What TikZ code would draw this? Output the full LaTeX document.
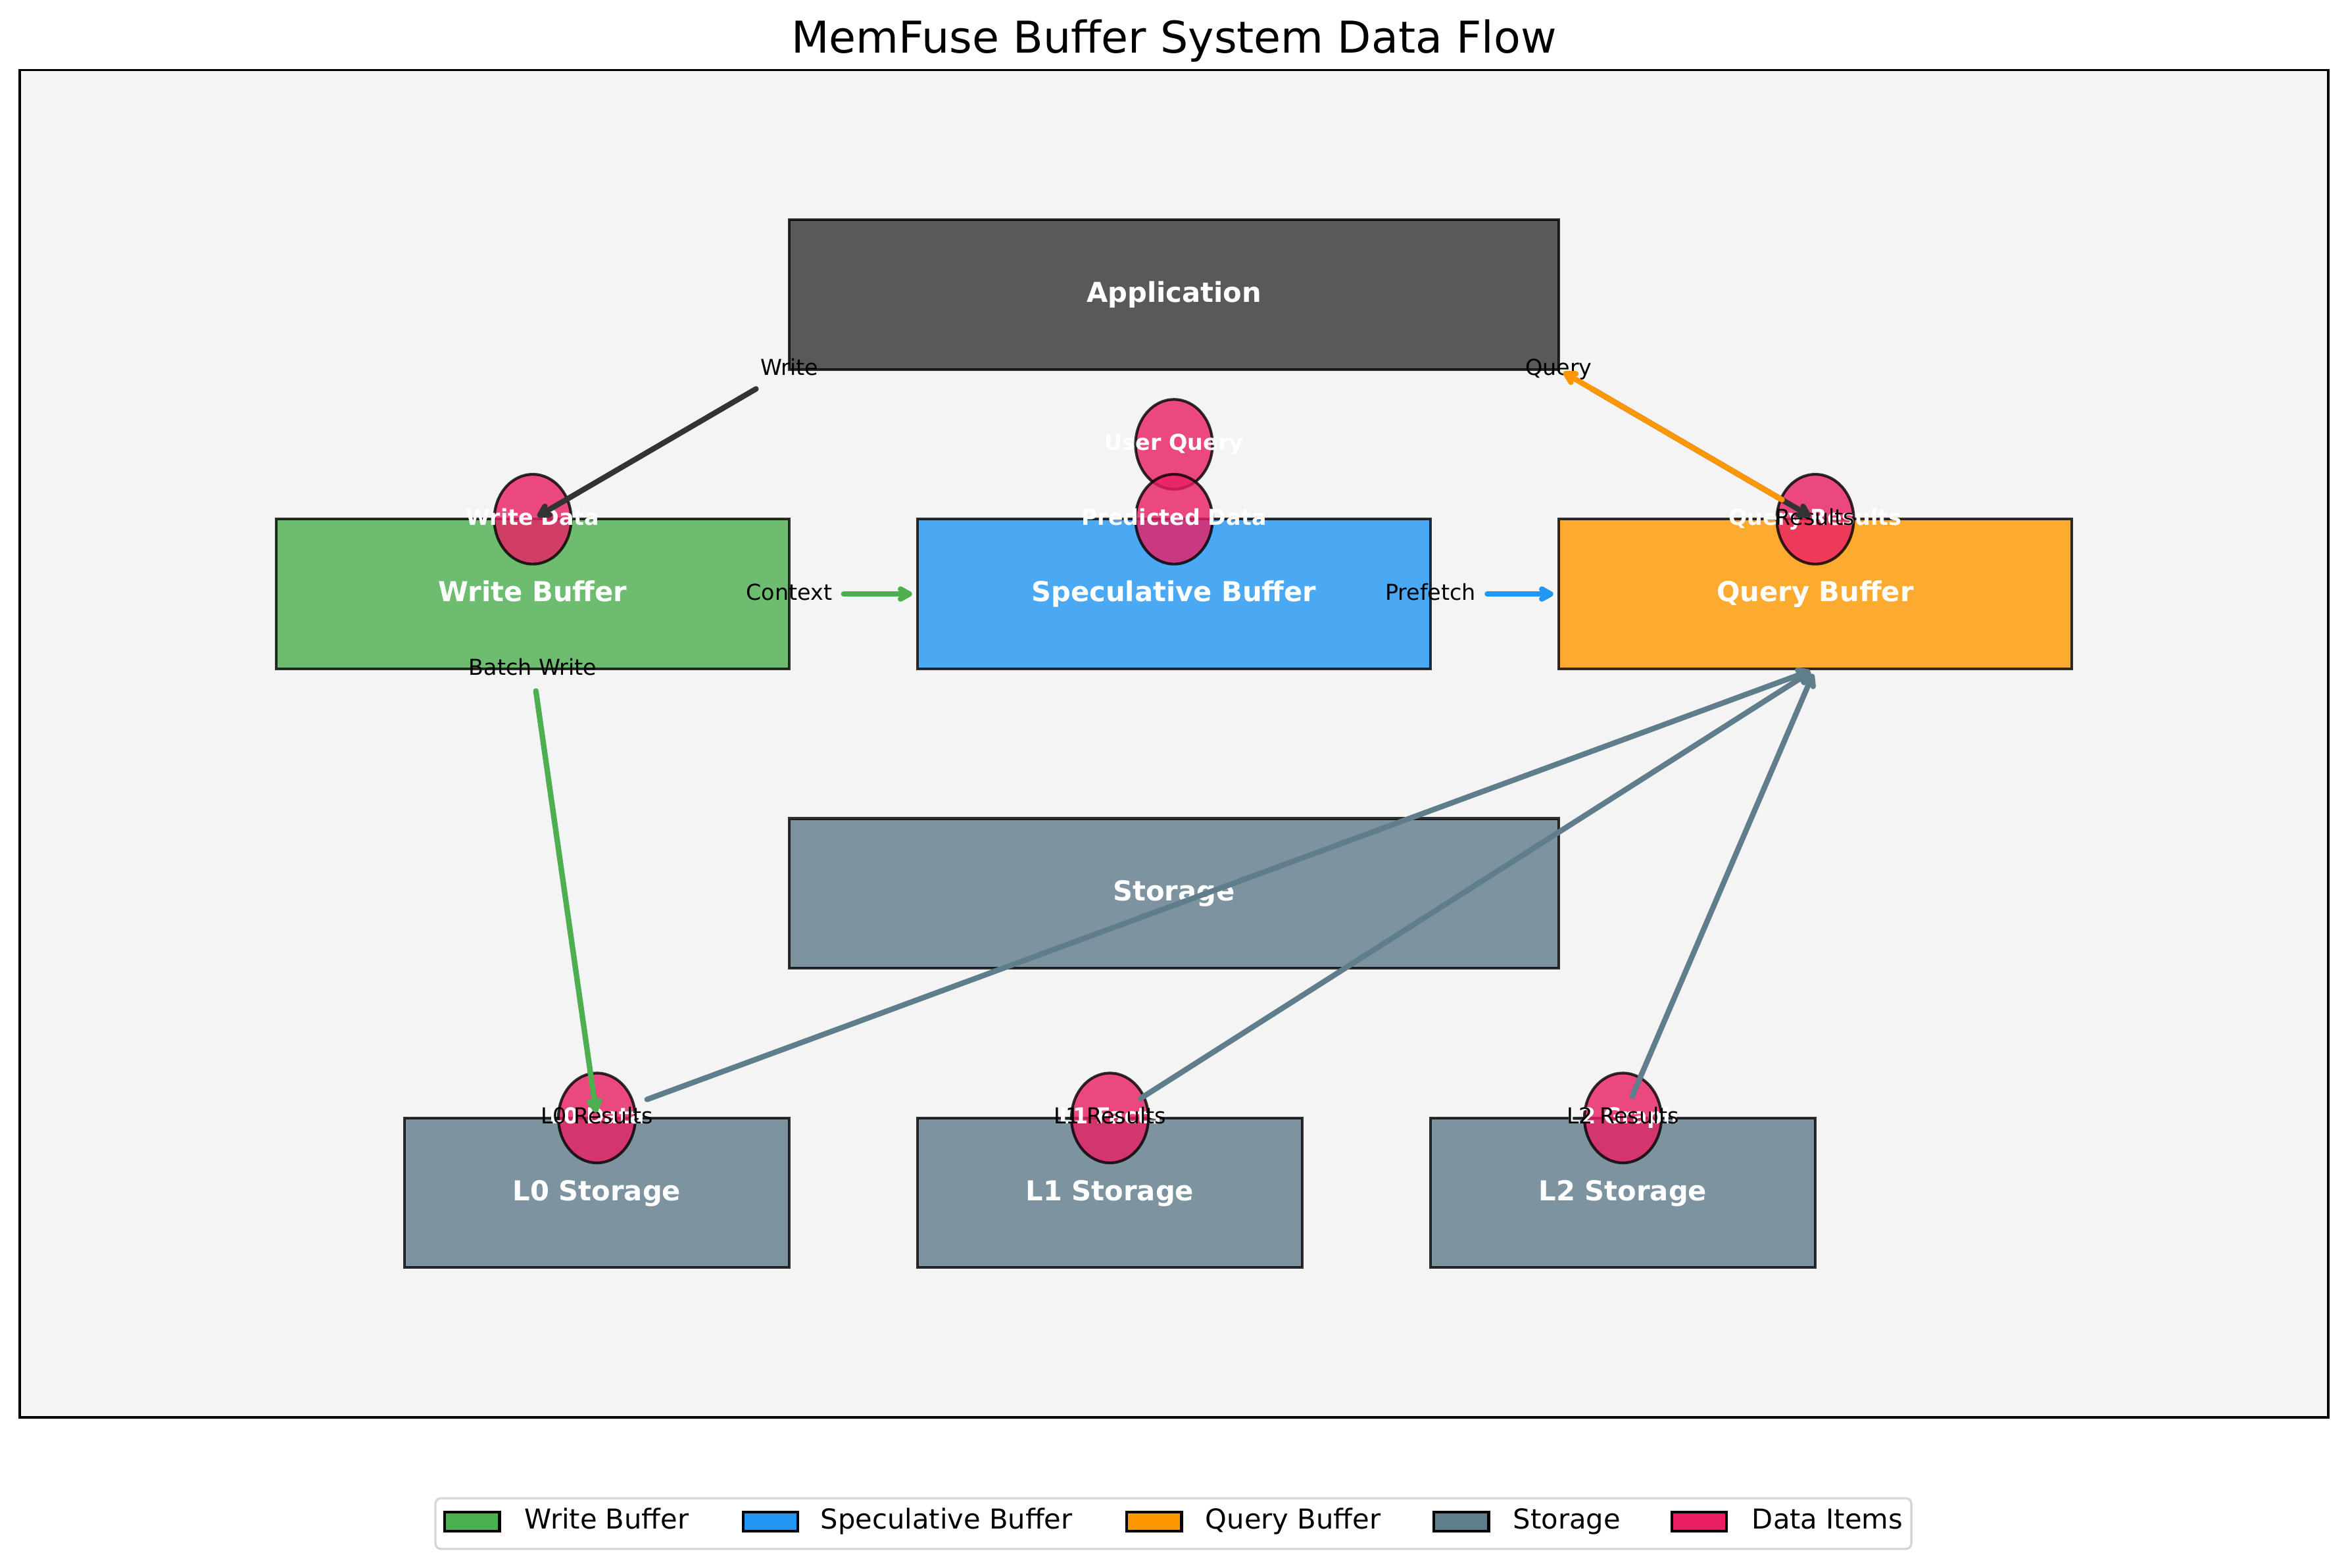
\documentclass[tikz,border=0pt]{standalone}
\usepackage{fontspec}
\setmainfont{DejaVu Sans}
\usetikzlibrary{arrows.meta,shapes.geometric}
\definecolor{cgreen}{HTML}{4CAF50}
\definecolor{cblue}{HTML}{2196F3}
\definecolor{corange}{HTML}{FF9800}
\definecolor{cslate}{HTML}{607D8B}
\definecolor{cpink}{HTML}{E91E63}
\definecolor{cdark}{HTML}{333333}
\definecolor{cbg}{HTML}{F4F4F4}
\definecolor{clegedge}{HTML}{D6D6D6}
\tikzset{
  boxnode/.style={rectangle, draw=black, draw opacity=0.8, fill opacity=0.8, text opacity=1,
    line width=1pt, inner sep=0pt, outer sep=0pt, minimum height=54.624pt,
    text=white, font=\fontsize{10}{12}\selectfont\bfseries, text height=7.6pt, text depth=2.08pt},
  wide/.style={minimum width=280.8pt},
  mid/.style={minimum width=187.2pt},
  narrow/.style={minimum width=140.4pt},
  dataitem/.style={ellipse, draw=black, fill=cpink, draw opacity=0.8, fill opacity=0.8,
    line width=1pt, inner sep=0pt, outer sep=0pt, minimum width=28.08pt, minimum height=32.77pt},
  dlabel/.style={text=white, font=\fontsize{8}{9.6}\selectfont\bfseries, inner sep=0pt,
    text height=6.08pt, text depth=1.66pt},
  alab/.style={text=black, font=\fontsize{8}{9.6}\selectfont, inner sep=2pt,
    text height=6.08pt, text depth=1.66pt},
  flow/.style={line width=2pt, line cap=round, line join=round,
    -{Straight Barb[length=3.2pt,width=3.6pt,round]}, shorten <=2pt, shorten >=2pt},
  lpatch/.style={rectangle, draw=black, line width=1pt, minimum width=20pt, minimum height=7pt, inner sep=0pt},
  ltext/.style={font=\fontsize{10}{12}\selectfont, anchor=west, inner sep=0pt, text height=7.6pt, text depth=2.08pt}
}
\begin{document}
\begin{tikzpicture}[x=46.8pt, y=54.624pt]
\fill[white] (-0.153846,-1.006151) rectangle (18.153846,9.468366);
\useasboundingbox (-0.153846,-1.006151) rectangle (18.153846,9.468366);

% axes area
\draw[fill=cbg, line width=0.8pt] (0,0) rectangle (18,9);

% title
\node[font=\fontsize{16}{19.2}\selectfont, anchor=base, inner sep=0pt] (title) at (9,9.1125) {MemFuse Buffer System Data Flow};

% boxes
\node[boxnode, wide, fill=cdark] (app) at (9,7.5) {Application};
\node[boxnode, mid, fill=cgreen] (wb) at (4,5.5) {Write Buffer};
\node[boxnode, mid, fill=cblue] (spec) at (9,5.5) {Speculative Buffer};
\node[boxnode, mid, fill=corange] (qb) at (14,5.5) {Query Buffer};
\node[boxnode, wide, fill=cslate] (stor) at (9,3.5) {Storage};
\node[boxnode, narrow, fill=cslate] (l0) at (4.5,1.5) {L0 Storage};
\node[boxnode, narrow, fill=cslate] (l1) at (8.5,1.5) {L1 Storage};
\node[boxnode, narrow, fill=cslate] (l2) at (12.5,1.5) {L2 Storage};

% data items
\node[dataitem, label={[dlabel, name=wdl]center:Write Data}] (wd) at (4,6) {};
\node[dataitem, label={[dlabel, name=uql]center:User Query}] (uq) at (9,6.5) {};
\node[dataitem, label={[dlabel, name=pdl]center:Predicted Data}] (pd) at (9,6) {};
\node[dataitem, label={[dlabel, name=qrl]center:Query Results}] (qr) at (14,6) {};
\node[dataitem, label={[dlabel, name=e0l]center:L0 Data}] (e0) at (4.5,2) {};
\node[dataitem, label={[dlabel, name=e1l]center:L1 Facts}] (e1) at (8.5,2) {};
\node[dataitem, label={[dlabel, name=e2l]center:L2 Graph}] (e2) at (12.5,2) {};

% flow labels
\node[alab] (wlab) at (6,7) {Write};
\node[alab] (blab) at (4,5) {Batch Write};
\node[alab] (clab) at (6,5.5) {Context};
\node[alab] (plab) at (11,5.5) {Prefetch};
\node[alab] (qlab) at (12,7) {Query};
\node[alab] (rlab) at (14,6) {Results};
\node[alab] (r0) at (4.5,2) {L0 Results};
\node[alab] (r1) at (8.5,2) {L1 Results};
\node[alab] (r2) at (12.5,2) {L2 Results};

% flows
\draw[flow, cdark] (wlab) -- (wd.center);
\draw[flow, cgreen] (blab) -- (e0.center);
\draw[flow, cgreen] (clab) -- (spec.west);
\draw[flow, cblue] (plab) -- (qb.west);
\draw[flow, cdark] (qlab) -- (qr.center);
\draw[flow, corange] (rlab) -- (qlab.center);
\draw[flow, cslate] (r0) -- (qb.south);
\draw[flow, cslate] (r1) -- (qb.south);
\draw[flow, cslate] (r2) -- (qb.south);

% legend
\draw[clegedge, fill=white, line width=0.8pt, rounded corners=2pt] (3.241,-0.5404) rectangle (14.749,-0.8787);
\node[lpatch, fill=cgreen] (lg1) at (3.527,-0.6964) {};
\node[ltext] (lt1) at (3.933,-0.6964) {Write Buffer};
\node[lpatch, fill=cblue] (lg2) at (5.855,-0.6964) {};
\node[ltext] (lt2) at (6.241,-0.6964) {Speculative Buffer};
\node[lpatch, fill=corange] (lg3) at (8.845,-0.6964) {};
\node[ltext] (lt3) at (9.241,-0.6964) {Query Buffer};
\node[lpatch, fill=cslate] (lg4) at (11.240,-0.6964) {};
\node[ltext] (lt4) at (11.641,-0.6964) {Storage};
\node[lpatch, fill=cpink] (lg5) at (13.096,-0.6964) {};
\node[ltext] (lt5) at (13.503,-0.6964) {Data Items};
\end{tikzpicture}
\end{document}
